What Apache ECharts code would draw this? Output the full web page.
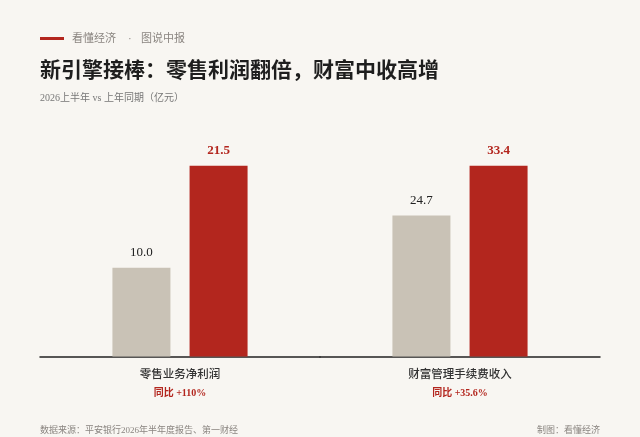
<!DOCTYPE html>
<html>
<head>
<meta charset="utf-8">
<script src="https://cdn.jsdelivr.net/npm/echarts@6/dist/echarts.min.js"></script>
<style>
  html, body { margin: 0; padding: 0; background: #f8f6f2; }
  #main { width: 640px; height: 437px; }
</style>
</head>
<body>
<div id="main"></div>
<script>
// 数据
var categories = ['零售业务净利润', '财富管理手续费收入'];
var priorValues = [10.0, 24.7];   // 上年同期
var currentValues = [21.5, 33.4]; // 2026上半年
var yoyLabels = ['同比 +110%', '同比 +35.6%'];

var SERIF = '"Liberation Serif", "Noto Sans CJK SC", serif';
var RED = '#b3261e';
var GRAY = '#c9c2b6';

var chart = echarts.init(document.getElementById('main'));

var grids = [];
var xAxes = [];
var yAxes = [];
var series = [];

// 每个指标单独一个grid，各自以本组最大值为满格
categories.forEach(function (name, i) {
  grids.push({
    left: 40 + i * 280,
    width: 280,
    top: 165.7,
    bottom: 80.5
  });
  xAxes.push({
    type: 'category',
    gridIndex: i,
    data: [name],
    axisTick: { show: false },
    axisLine: { show: true, lineStyle: { color: '#222', width: 1.5 } },
    axisLabel: {
      margin: 9,
      interval: 0,
      formatter: function (v) {
        return '{a|' + v + '}\n{b|' + yoyLabels[i] + '}';
      },
      rich: {
        a: { fontFamily: SERIF, fontSize: 11.5, color: '#333', lineHeight: 19, fontWeight: 500 },
        b: { fontFamily: SERIF, fontSize: 10, color: RED, lineHeight: 18, fontWeight: 'bold' }
      }
    }
  });
  yAxes.push({
    type: 'value',
    gridIndex: i,
    min: 0,
    max: Math.max(priorValues[i], currentValues[i]),
    show: false,
    splitLine: { show: false }
  });
  series.push({
    name: '上年同期',
    type: 'bar',
    xAxisIndex: i,
    yAxisIndex: i,
    barWidth: 58,
    barGap: '33%',
    data: [priorValues[i]],
    itemStyle: { color: GRAY },
    label: {
      show: true,
      position: 'top',
      distance: 8,
      fontFamily: SERIF,
      fontSize: 13,
      lineHeight: 14,
      color: '#222',
      formatter: function (p) { return p.value.toFixed(1); }
    },
    silent: true
  });
  series.push({
    name: '2026上半年',
    type: 'bar',
    xAxisIndex: i,
    yAxisIndex: i,
    barWidth: 58,
    barGap: '33%',
    data: [currentValues[i]],
    itemStyle: { color: RED },
    label: {
      show: true,
      position: 'top',
      distance: 8,
      fontFamily: SERIF,
      fontSize: 13,
      lineHeight: 14,
      fontWeight: 'bold',
      color: RED,
      formatter: function (p) { return p.value.toFixed(1); }
    },
    silent: true
  });
});

var option = {
  backgroundColor: '#f8f6f2',
  animation: false,
  grid: grids,
  xAxis: xAxes,
  yAxis: yAxes,
  series: series,
  graphic: [
    // 顶部红线 + 栏目名
    { type: 'rect', shape: { x: 40, y: 37, width: 24, height: 3 }, style: { fill: RED } },
    { type: 'text', x: 72, y: 39, style: { text: '看懂经济', font: '11px ' + SERIF, fill: '#8a8580', verticalAlign: 'middle' } },
    { type: 'text', x: 128, y: 39, style: { text: '·', font: '11px ' + SERIF, fill: '#8a8580', verticalAlign: 'middle' } },
    { type: 'text', x: 141, y: 39, style: { text: '图说中报', font: '11px ' + SERIF, fill: '#8a8580', verticalAlign: 'middle' } },
    // 标题
    { type: 'text', x: 40, y: 72, style: { text: '新引擎接棒：零售利润翻倍，财富中收高增', font: 'bold 21px ' + SERIF, fill: '#1e1e1e', verticalAlign: 'middle' } },
    { type: 'text', x: 40, y: 98, style: { text: '2026上半年 vs 上年同期（亿元）', font: '10px ' + SERIF, fill: '#777', verticalAlign: 'middle' } },
    // 底部来源
    { type: 'text', x: 40, y: 431, style: { text: '数据来源：平安银行2026年半年度报告、第一财经', font: '9px ' + SERIF, fill: '#8a8580', verticalAlign: 'middle' } },
    { type: 'text', x: 600, y: 431, style: { text: '制图：看懂经济', font: '9px ' + SERIF, fill: '#8a8580', verticalAlign: 'middle', align: 'right' } }
  ]
};

chart.setOption(option);
</script>
</body>
</html>
